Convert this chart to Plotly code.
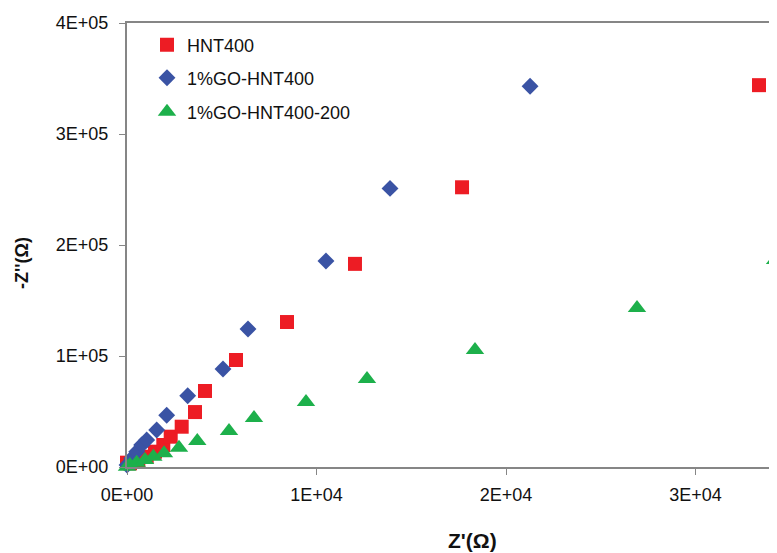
import plotly.graph_objects as go

# HNT400
hnt_x = [0, 160, 598, 1040, 1478, 1916, 2306, 2886, 3588, 4116, 5752, 8443, 12030, 17680, 33350]
hnt_y = [3900, 3300, 5700, 9300, 13800, 19800, 27300, 36300, 49500, 68500, 96400, 130600, 183000, 252000, 344000]

# 1%GO-HNT400
go_x = [0, 248, 512, 774, 1040, 1567, 2095, 3203, 5066, 6385, 10500, 13880, 21270]
go_y = [1800, 7800, 13800, 19800, 24300, 33300, 46600, 64200, 88300, 124300, 185600, 251000, 343000]

# 1%GO-HNT400-200
go200_x = [0, 158, 510, 950, 1390, 1953, 2744, 3710, 5383, 6702, 9446, 12665, 18364, 26913, 34200]
go200_y = [300, 1800, 3900, 6300, 9300, 12300, 17400, 23400, 32400, 44100, 58600, 79300, 105400, 143200, 186500]

x_tickvals = [0, 10000, 20000, 30000]
x_ticktext = ["0E+00", "1E+04", "2E+04", "3E+04"]
y_tickvals = [0, 100000, 200000, 300000, 400000]
y_ticktext = ["0E+00", "1E+05", "2E+05", "3E+05", "4E+05"]

FONT = "Liberation Sans Narrow, Arial Narrow, Liberation Sans, sans-serif"

# page body has an 8px margin: figure origin sits at (8, 8) in the window
OFF = 8
W, H = 777, 553
L, T, B, R = 127 - OFF, 23 - OFF, H + OFF - 467, 0
PW = W - L - R          # plot width in px
PH = H - T - B          # plot height in px
PX_PER_1E4 = 189.5

fig = go.Figure()
fig.add_trace(go.Scatter(x=hnt_x, y=hnt_y, mode="markers", name="HNT400",
                         marker=dict(symbol="square", size=14, color="#ED1C24"),
                         legend="legend", cliponaxis=False))
fig.add_trace(go.Scatter(x=go_x, y=go_y, mode="markers", name="1%GO-HNT400",
                         marker=dict(symbol="diamond", size=13, color="#3A53A4"),
                         legend="legend2", cliponaxis=False))
fig.add_trace(go.Scatter(x=go200_x, y=go200_y, mode="markers", name="1%GO-HNT400-200",
                         marker=dict(symbol="triangle-up", size=16, color="#1DB04B"),
                         legend="legend3", cliponaxis=False))

leg_common = dict(xanchor="left", yanchor="middle", bgcolor="rgba(0,0,0,0)",
                  font=dict(family=FONT, size=18, color="#111"))
LX = 20 / PW
fig.update_layout(
    width=W, height=H,
    showlegend=True,
    margin=dict(l=L, r=R, t=T, b=B, autoexpand=False),
    plot_bgcolor="white", paper_bgcolor="white",
    font=dict(family=FONT, size=18, color="#111"),
    legend=dict(x=LX, y=1 - 22 / PH, **leg_common),
    legend2=dict(x=LX, y=1 - 55 / PH, **leg_common),
    legend3=dict(x=LX, y=1 - 89 / PH, **leg_common),
    xaxis=dict(range=[0, PW / PX_PER_1E4 * 1e4], tickvals=x_tickvals, ticktext=x_ticktext,
               showgrid=False, zeroline=False, showline=True, linecolor="#868686",
               linewidth=2, mirror=True, ticks="outside", ticklen=6, tickcolor="#868686",
               ticklabelstandoff=4, tickfont=dict(family=FONT, size=18)),
    yaxis=dict(range=[0, 400000], tickvals=y_tickvals, ticktext=y_ticktext,
               showgrid=False, zeroline=False, showline=True, linecolor="#868686",
               linewidth=2, ticks="outside", ticklen=6, tickcolor="#868686",
               ticklabelstandoff=7, tickfont=dict(family=FONT, size=18)),
    annotations=[
        dict(text="<b>Z'(Ω)</b>", x=(472 - 127) / PW, xref="paper",
             y=-(540 - 467) / PH, yref="paper", showarrow=False,
             font=dict(family=FONT, size=21), xanchor="center", yanchor="middle"),
        dict(text="<b>-Z''(Ω)</b>", x=-(127 - 22) / PW, xref="paper",
             y=(467 - 263) / PH, yref="paper", showarrow=False, textangle=-90,
             font=dict(family=FONT, size=18), xanchor="center", yanchor="middle"),
    ],
)

fig.write_html("out.html")
